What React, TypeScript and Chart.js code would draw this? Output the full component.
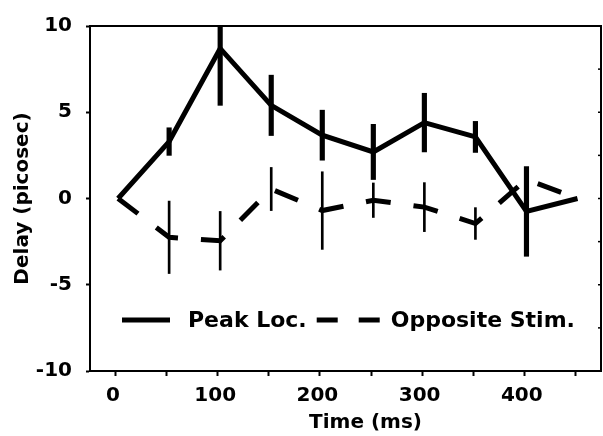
import { useEffect, useRef } from "react";
import { Chart, registerables } from "chart.js";

Chart.register(...registerables);

// Delay of the peak (picoseconds) against time after stimulus onset (ms)
const times = [0, 50, 100, 150, 200, 250, 300, 350, 400, 450];
const peakLoc = [0, 3.3, 8.7, 5.4, 3.67, 2.7, 4.4, 3.57, -0.75, 0];
const peakLocErr = [null, 0.8, 3.3, 1.75, 1.45, 1.6, 1.7, 0.9, 2.6, null];
const oppositeStim = [0, -2.25, -2.45, 0.55, -0.7, -0.1, -0.5, -1.45, 1.1, 0];
const oppositeStimErr = [null, 2.1, 1.7, 1.25, 2.25, 1.0, 1.42, 0.92, null, null];

// Time axis: tick marks every tenth of the range, a label on every other mark
const timeTickLabels = ["0", "100", "200", "300", "400"];
const delayTicks = [-10, -5, 0, 5, 10];

const X_MIN = -27.5;
const X_MAX = 473;
const X_TICK_COUNT = 10;

const FONT_FAMILY = "'DejaVu Sans', 'Liberation Sans', sans-serif";
const INK = "#000";

function points(values: number[]) {
  return times.map((t, i) => ({ x: t, y: values[i] }));
}

function errorRanges(values: number[], errs: (number | null)[]) {
  return times
    .map((t, i) => {
      const e = errs[i];
      return e == null ? null : { x: t, y: [values[i] - e, values[i] + e] };
    })
    .filter((p) => p !== null);
}

// Outline of the plot box: top and right edges with small inward ticks.
const plotFrame = {
  id: "plotFrame",
  afterDraw(chart: any) {
    const { ctx, chartArea: a, scales } = chart;
    const y = scales.y;
    ctx.save();
    ctx.strokeStyle = INK;
    ctx.lineWidth = 2;
    ctx.beginPath();
    ctx.moveTo(a.left - 1, a.top);
    ctx.lineTo(a.right, a.top);
    ctx.lineTo(a.right, a.bottom + 1);
    ctx.stroke();
    ctx.lineWidth = 1.5;
    for (let v = y.min; v <= y.max + 1e-6; v += 2.5) {
      const py = y.getPixelForValue(v);
      ctx.beginPath();
      ctx.moveTo(a.right, py);
      ctx.lineTo(a.right - 3, py);
      ctx.stroke();
    }
    ctx.restore();
  },
};

// Legend drawn in one row inside the lower part of the plot box.
const insideLegend = {
  id: "insideLegend",
  afterDatasetsDraw(chart: any, _args: any, opts: any) {
    const { ctx, chartArea: a } = chart;
    const lines = chart.data.datasets.filter((d: any) => d.type === "line");
    const lineY = a.bottom - opts.offsetY;
    let x = a.left + opts.offsetX;
    ctx.save();
    ctx.font = `bold ${opts.fontSize}px ${FONT_FAMILY}`;
    ctx.textBaseline = "alphabetic";
    ctx.textAlign = "left";
    ctx.fillStyle = INK;
    lines.forEach((d: any, i: number) => {
      const item = opts.items[i];
      ctx.strokeStyle = d.borderColor;
      ctx.lineWidth = d.borderWidth;
      ctx.lineCap = "butt";
      ctx.setLineDash(item.dash);
      ctx.beginPath();
      ctx.moveTo(x, lineY);
      ctx.lineTo(x + item.sampleWidth, lineY);
      ctx.stroke();
      ctx.setLineDash([]);
      x += item.sampleWidth + item.gap;
      ctx.fillText(d.label, x, lineY + opts.baselineOffset);
      x += ctx.measureText(d.label).width + opts.itemSpacing;
    });
    ctx.restore();
  },
};

export default function App() {
  const canvasRef = useRef<HTMLCanvasElement | null>(null);

  useEffect(() => {
    const canvas = canvasRef.current;
    if (!canvas) return;

    const font = (size: number) => ({ family: FONT_FAMILY, size, weight: "bold" as const });

    const chart = new Chart(canvas, {
      type: "line",
      data: {
        datasets: [
          {
            type: "line",
            label: "Peak Loc.",
            data: points(peakLoc),
            borderColor: INK,
            borderWidth: 5,
            pointRadius: 0,
            tension: 0,
            borderJoinStyle: "miter",
            borderCapStyle: "butt",
          },
          {
            type: "line",
            label: "Opposite Stim.",
            data: points(oppositeStim),
            borderColor: INK,
            borderWidth: 5,
            borderDash: [25, 23],
            pointRadius: 0,
            tension: 0,
            borderJoinStyle: "miter",
            borderCapStyle: "butt",
          },
          {
            type: "bar",
            label: "Peak Loc. error",
            data: errorRanges(peakLoc, peakLocErr) as any,
            backgroundColor: INK,
            borderWidth: 0,
            barThickness: 4.5,
            grouped: false,
          },
          {
            type: "bar",
            label: "Opposite Stim. error",
            data: errorRanges(oppositeStim, oppositeStimErr) as any,
            backgroundColor: INK,
            borderWidth: 0,
            barThickness: 2,
            grouped: false,
          },
        ] as any,
      },
      options: {
        animation: false,
        responsive: false,
        layout: { padding: { left: 0, top: 24, right: 2, bottom: 0 } },
        plugins: {
          legend: { display: false },
          tooltip: { enabled: false },
          insideLegend: {
            offsetX: 32,
            offsetY: 51,
            baselineOffset: 7,
            fontSize: 22,
            itemSpacing: 10,
            items: [
              { sampleWidth: 48, gap: 18, dash: [] },
              { sampleWidth: 64, gap: 10, dash: [21, 21] },
            ],
          },
        } as any,
        scales: {
          x: {
            type: "linear",
            position: "bottom",
            min: X_MIN,
            max: X_MAX,
            offset: false,
            afterBuildTicks: (scale: any) => {
              const step = (X_MAX - X_MIN) / X_TICK_COUNT;
              scale.ticks = Array.from({ length: X_TICK_COUNT + 1 }, (_, k) => ({ value: X_MIN + k * step }));
            },
            afterFit: (scale: any) => {
              scale.height = 65;
              scale.paddingLeft = 0;
              scale.paddingRight = 0;
            },
            ticks: {
              color: INK,
              font: font(20),
              padding: 8,
              labelOffset: 23,
              autoSkip: false,
              maxRotation: 0,
              callback: (_v: any, index: number) =>
                index % 2 === 0 && index / 2 < timeTickLabels.length ? timeTickLabels[index / 2] : "",
            },
            grid: {
              display: true,
              drawOnChartArea: false,
              drawTicks: true,
              tickLength: 5,
              tickWidth: 2,
              color: INK,
            },
            border: { display: true, color: INK, width: 2 },
            title: {
              display: true,
              text: "\u2003\u2003Time (ms)",
              color: INK,
              font: font(20),
              padding: { top: 0, bottom: 1 },
            },
          },
          y: {
            type: "linear",
            position: "left",
            min: -10,
            max: 10,
            afterBuildTicks: (scale: any) => {
              scale.ticks = delayTicks.map((v) => ({ value: v }));
            },
            afterFit: (scale: any) => {
              scale.width = 90;
            },
            ticks: {
              color: INK,
              font: font(20),
              padding: 14,
              callback: (v: any) => String(v),
            },
            grid: {
              display: true,
              drawOnChartArea: false,
              drawTicks: true,
              tickLength: 4,
              tickWidth: 2,
              color: INK,
            },
            border: { display: true, color: INK, width: 2 },
            title: {
              display: true,
              text: "Delay (picosec)",
              color: INK,
              font: font(20),
              padding: { top: 11, bottom: 0 },
            },
          },
        },
      } as any,
      plugins: [plotFrame, insideLegend],
    });

    return () => chart.destroy();
  }, []);

  return (
    <div style={{ position: "absolute", left: 0, top: 0, width: 603, height: 436, background: "#fff" }}>
      <canvas ref={canvasRef} width={603} height={436} />
    </div>
  );
}
